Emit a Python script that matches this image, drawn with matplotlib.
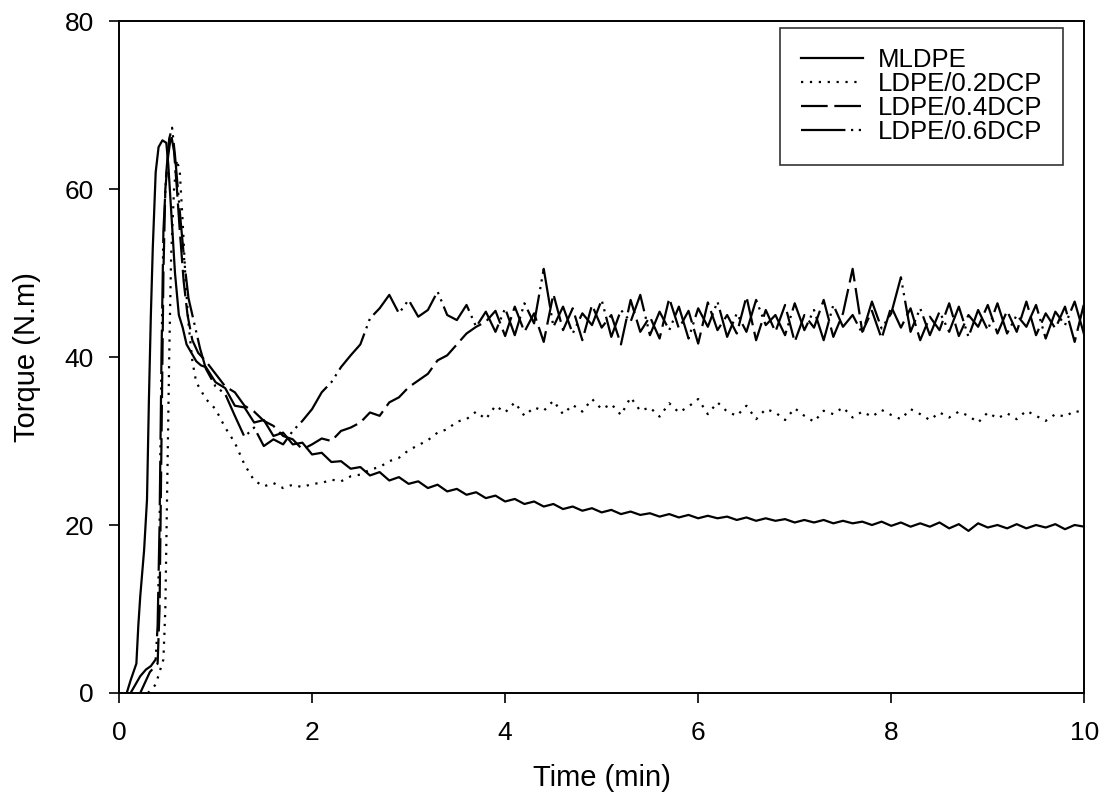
import numpy as np
import matplotlib.pyplot as plt

plt.rcParams['font.family'] = ['Liberation Sans', 'DejaVu Sans']

# ---- data ----
# early transient, irregular time points
t_ml_a = [0.08, 0.12, 0.15, 0.18, 0.20, 0.22, 0.26, 0.29, 0.31, 0.33, 0.35, 0.38,
          0.41, 0.45, 0.49, 0.51, 0.54, 0.58, 0.62, 0.66, 0.70, 0.75, 0.80, 0.85]
y_ml_a = [0.0, 1.5, 2.5, 3.5, 8.0, 11.5, 17.0, 23.0, 35.0, 45.0, 53.0, 62.0,
          65.0, 65.8, 65.5, 63.0, 57.5, 50.0, 45.0, 43.5, 41.5, 40.5, 39.5, 39.0]

t_02_a = [0.30, 0.38, 0.42, 0.46, 0.48, 0.50, 0.52, 0.54, 0.57, 0.60, 0.63, 0.66,
          0.69, 0.72, 0.76, 0.80, 0.85]
y_02_a = [0.0, 1.0, 2.5, 4.0, 10.0, 25.0, 40.0, 52.0, 60.0, 63.5, 62.0, 56.0,
          49.0, 44.0, 39.5, 37.0, 36.0]

t_04_a = [0.22, 0.28, 0.32, 0.36, 0.40, 0.42, 0.44, 0.46, 0.48, 0.51, 0.54, 0.57,
          0.60, 0.63, 0.67, 0.71, 0.76, 0.82]
y_04_a = [0.0, 1.5, 2.5, 3.0, 3.5, 10.0, 30.0, 50.0, 60.0, 64.0, 66.5, 64.5,
          60.0, 55.0, 49.0, 45.0, 42.0, 40.5]

t_06_a = [0.12, 0.17, 0.22, 0.28, 0.33, 0.38, 0.40, 0.42, 0.44, 0.46, 0.49, 0.52,
          0.55, 0.58, 0.61, 0.64, 0.68, 0.72, 0.78, 0.84]
y_06_a = [0.0, 1.0, 2.0, 2.8, 3.2, 4.0, 8.0, 20.0, 40.0, 55.0, 62.0, 66.0,
          67.3, 64.0, 60.0, 56.0, 51.0, 47.0, 44.0, 41.0]

# 0.9 ... 10.0 min every 0.1 min
t_b = np.round(np.arange(0.9, 10.01, 0.1), 2)

y_ml_b = [38.8, 37.0, 36.3, 34.2, 34.0, 32.2, 32.5, 30.6, 31.0, 29.6, 29.8,
          28.4, 28.6, 27.5, 27.6, 26.7, 26.9, 25.9, 26.3, 25.3, 25.7,
          24.9, 25.2, 24.4, 24.8, 24.0, 24.3, 23.6, 23.9, 23.2, 23.5,
          22.8, 23.1, 22.5, 22.8, 22.2, 22.5, 21.9, 22.2, 21.7, 22.0,
          21.5, 21.8, 21.3, 21.6, 21.2, 21.4, 21.0, 21.3, 20.9, 21.2,
          20.8, 21.1, 20.8, 21.0, 20.6, 20.9, 20.5, 20.8, 20.5, 20.7,
          20.3, 20.6, 20.3, 20.6, 20.2, 20.5, 20.2, 20.4, 20.0, 20.4,
          19.9, 20.3, 19.8, 20.2, 19.8, 20.3, 19.6, 20.1, 19.3, 20.2,
          19.7, 20.0, 19.6, 20.1, 19.6, 20.0, 19.7, 20.1, 19.5, 20.0,
          19.8]

y_02_b = [35.0, 33.8, 31.6, 29.8, 27.2, 25.3, 24.6, 25.0, 24.4, 24.8, 24.5,
          24.9, 25.0, 25.4, 25.2, 25.8, 26.0, 26.6, 26.9, 27.6, 28.0,
          28.9, 29.5, 30.1, 31.0, 31.4, 32.3, 32.6, 33.5, 32.6, 34.2,
          33.4, 34.6, 33.0, 34.0, 33.6, 34.8, 33.2, 34.3, 33.5, 35.0,
          33.8, 34.4, 33.1, 35.2, 33.6, 34.0, 32.9, 34.5, 33.4, 34.1,
          35.0, 33.2, 34.6, 33.5, 33.0, 34.2, 32.6, 33.8, 33.4, 32.5,
          33.9, 33.0, 32.3, 33.6, 33.2, 34.0, 32.8, 33.5, 32.9, 33.7,
          33.1, 32.6, 33.8, 33.2, 32.5, 33.4, 32.8, 33.5, 33.0, 32.2,
          33.4, 32.7, 33.3, 32.6, 33.6, 33.0, 32.4, 33.2, 32.9, 33.6,
          33.3]

y_04_b = [39.5, 38.0, 36.5, 35.8, 34.2, 33.5, 32.4, 31.8, 30.6, 30.2, 29.0,
          29.6, 30.3, 30.0, 31.2, 31.6, 32.2, 33.4, 33.0, 34.6, 35.2,
          36.4, 37.2, 38.0, 39.6, 40.2, 41.5, 42.8, 43.6, 44.2, 45.5,
          42.5, 46.0, 43.0, 45.2, 41.8, 47.5, 43.2, 45.8, 42.0, 46.2,
          43.5, 45.0, 41.5, 46.8, 43.0, 44.8, 42.2, 47.0, 43.4, 45.5,
          41.6, 46.5, 43.2, 45.0, 42.8, 47.2, 42.0, 45.6, 43.0, 46.2,
          41.8, 45.0, 43.5, 46.8, 42.4, 45.2, 50.5, 43.0, 45.5, 42.2,
          46.0, 43.5, 45.8, 42.0, 44.8, 43.2, 46.4, 42.5, 45.0, 43.6,
          46.2, 42.8, 45.5, 43.0, 46.6, 42.6, 45.2, 43.4, 46.0, 41.8,
          46.5]

y_06_b = [38.6, 36.5, 35.6, 33.0, 30.5, 31.6, 29.4, 30.2, 29.6, 31.2, 32.4,
          33.8, 35.8, 37.0, 38.8, 40.2, 41.5, 44.6, 45.8, 47.4, 45.2,
          46.8, 44.8, 45.6, 47.8, 45.0, 44.4, 46.2, 43.6, 45.4, 43.0,
          45.8, 42.6, 46.4, 44.0, 50.5, 43.6, 46.0, 42.8, 45.2, 43.8,
          46.8, 42.4, 45.6, 44.2, 47.4, 42.6, 45.4, 43.2, 46.0, 42.2,
          45.8, 43.6, 46.6, 42.4, 45.2, 43.0, 46.8, 43.8, 45.0, 42.6,
          46.4, 43.2, 45.6, 42.0, 46.2, 43.6, 45.0, 42.8, 46.6, 43.4,
          45.2, 49.5, 43.0, 45.8, 42.6, 45.4, 43.0, 46.0, 42.4, 45.6,
          43.2, 46.4, 42.8, 45.0, 43.6, 46.2, 42.2, 45.4, 43.8, 46.6,
          42.6]

labels = ['MLDPE', 'LDPE/0.2DCP', 'LDPE/0.4DCP', 'LDPE/0.6DCP']

series = [
    (t_ml_a, y_ml_a, y_ml_b, '-'),
    (t_02_a, y_02_a, y_02_b, (0, (1, 3))),
    (t_04_a, y_04_a, y_04_b, (0, (12, 3))),
    (t_06_a, y_06_a, y_06_b, (0, (20, 2.5, 1, 2.5, 1, 2.5))),
]

fig = plt.figure(figsize=(11.07, 7.98), dpi=100)
ax = fig.add_axes([0.1075, 0.1316, 0.872, 0.842])

for (ta, ya, yb, ls), lab in zip(series, labels):
    t = np.concatenate([ta, t_b])
    y = np.concatenate([ya, yb])
    ax.plot(t, y, color='black', lw=1.6, linestyle=ls, label=lab)

ax.set_xlim(0, 10)
ax.set_ylim(0, 80)
ax.set_xticks([0, 2, 4, 6, 8, 10])
ax.set_yticks([0, 20, 40, 60, 80])
ax.tick_params(direction='out', length=7, width=1.2, labelsize=19)
ax.tick_params(axis='x', pad=13)
ax.tick_params(axis='y', pad=11)
for s in ax.spines.values():
    s.set_linewidth(1.4)

ax.set_xlabel('Time (min)', fontsize=21, labelpad=14)
ax.set_ylabel('Torque (N.m)', fontsize=21, labelpad=17)

leg = ax.legend(loc='upper right', bbox_to_anchor=(0.978, 0.990), fontsize=18.5,
                frameon=True, fancybox=False, edgecolor='black', handlelength=2.4,
                borderpad=0.8, labelspacing=0.0, handletextpad=0.6,
                borderaxespad=0)
leg.get_frame().set_linewidth(1.2)

plt.savefig('out.png', dpi=100)
